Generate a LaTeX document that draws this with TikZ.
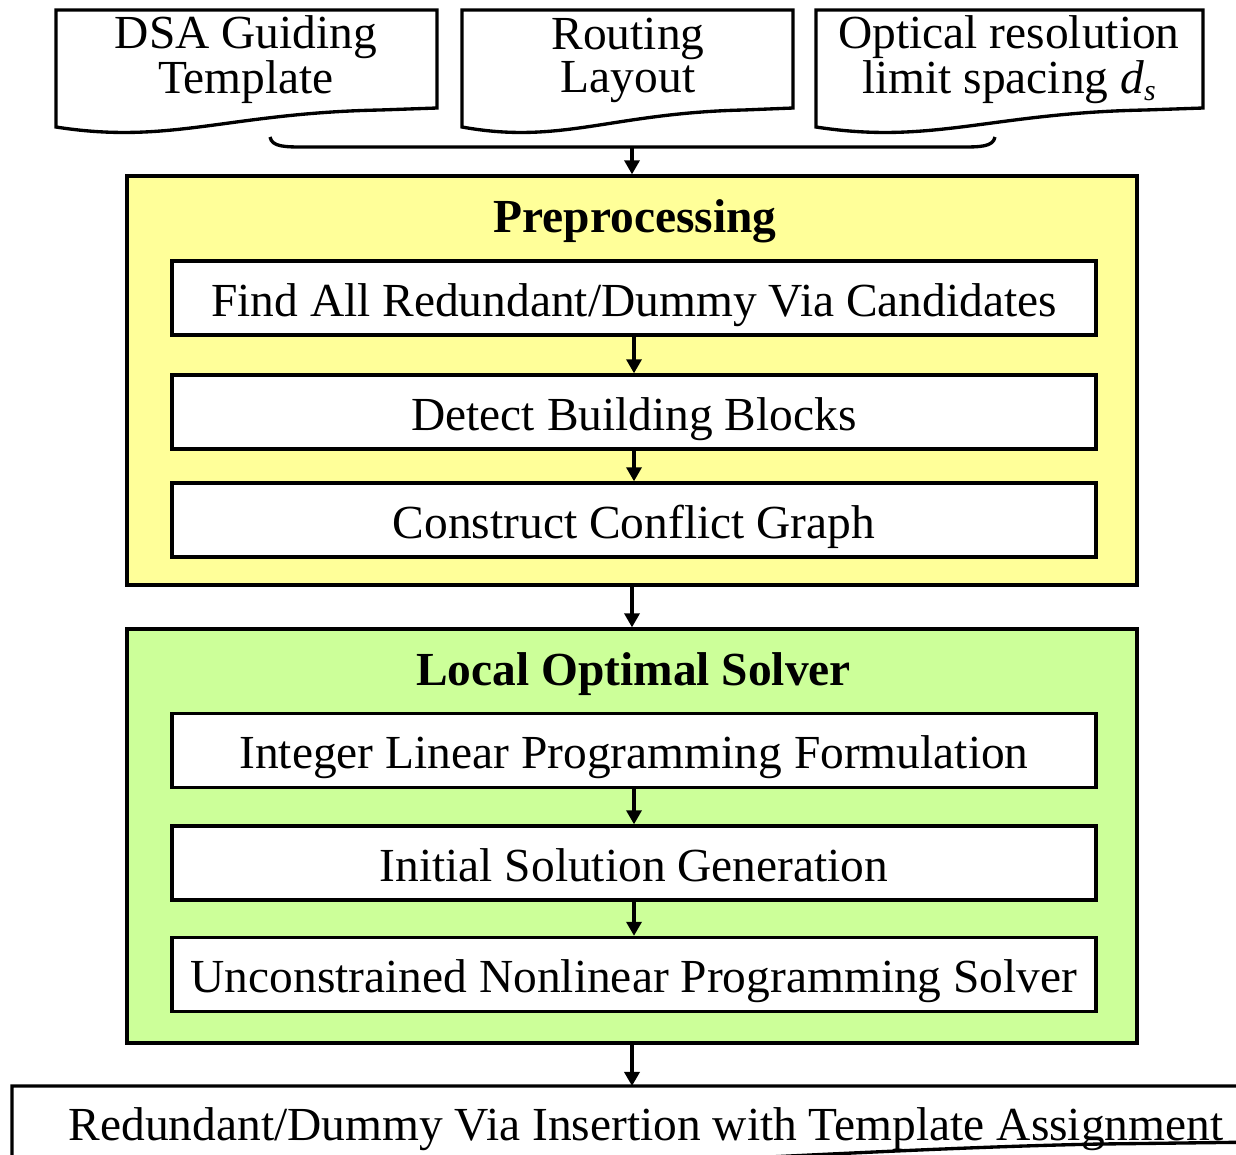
\documentclass[tikz,border=0pt]{standalone}
\usepackage{fontspec}
\setmainfont{Liberation Serif}
\usetikzlibrary{arrows.meta}

\definecolor{preyellow}{RGB}{255,255,153}
\definecolor{solvegreen}{RGB}{204,255,153}

\begin{document}
\begin{tikzpicture}[x=0.02cm, y=-0.02cm, line width=1.9pt,
    every node/.style={font=\fontsize{27}{24.4}\selectfont},
    stepbox/.style={draw, fill=white, minimum width=18.48cm, minimum height=1.48cm, inner sep=0pt,
        text height=20.5pt, text depth=0pt},
    panel/.style={draw, minimum width=20.2cm, inner sep=0pt},
    title/.style={font=\fontsize{27}{24.4}\selectfont\bfseries, anchor=base},
    arr/.style={-{Triangle[length=8pt,width=8.5pt]}, line width=2pt}]
    \useasboundingbox (0,0) rectangle (1236,1154);
    \clip (0,0) rectangle (1236,1154);

    % Inputs (top) - three document shapes
    \foreach \xl/\xr in {56/437, 462/793, 816/1203} {
        \draw (\xl,10) -- (\xr,10) -- (\xr,108) -- ({\xr-0.15*(\xr-\xl)},110)
            .. controls ({\xl+0.45*(\xr-\xl)},113) and ({\xl+0.3*(\xr-\xl)},145) .. (\xl,127) -- cycle;
    }
    \node[align=center, inner sep=0pt] (dsa) at (246,60) {DSA Guiding\\Template};
    \node[align=center, inner sep=0pt] (layout) at (628,60) {Routing\\Layout};
    \node[align=center, inner sep=0pt] (optical) at (1009,60) {Optical resolution\\limit spacing \textit{d}\raisebox{-0.3ex}{\fontsize{17}{17}\selectfont\textit{s}}};

    % Brace joining the inputs
    \draw (270,137) .. controls (272,147) and (285,147) .. (305,147) -- (960,147)
        .. controls (980,147) and (993,147) .. (995,137);
    \coordinate (brace) at (632,147);

    % Preprocessing (yellow)
    \node[panel, fill=preyellow, minimum height=8.18cm] (pre) at (632,380.5) {};
    \node[title] (pretitle) at (635,232) {Preprocessing};
    \node[stepbox] (find) at (634,298) {Find All Redundant/Dummy Via Candidates};
    \node[stepbox] (detect) at (634,412) {Detect Building Blocks};
    \node[stepbox] (graph) at (634,520) {Construct Conflict Graph};

    % Local Optimal Solver (green)
    \node[panel, fill=solvegreen, minimum height=8.28cm] (los) at (632,836) {};
    \node[title] (lostitle) at (633.5,685) {Local Optimal Solver};
    \node[stepbox] (ilp) at (634,750.5) {Integer Linear Programming Formulation};
    \node[stepbox] (init) at (634,863) {Initial Solution Generation};
    \node[stepbox] (unlp) at (634,974.5) {Unconstrained Nonlinear Programming Solver};

    % Output (bottom) - document shape cut by the border
    \draw (12,1086) -- (1260,1086) -- (1260,1142) -- (1100,1144)
        .. controls (800,1150) and (500,1180) .. (12,1175) -- cycle;
    \node[anchor=base] (out) at (646,1140) {Redundant/Dummy Via Insertion with Template Assignment};
    \coordinate (outtop) at (632,1086);

    % Flow
    \draw[arr] (brace) -- (pre);
    \draw[arr] (find) -- (detect);
    \draw[arr] (detect) -- (graph);
    \draw[arr] (pre) -- (los);
    \draw[arr] (ilp) -- (init);
    \draw[arr] (init) -- (unlp);
    \draw[arr] (los) -- (outtop);
\end{tikzpicture}
\end{document}
